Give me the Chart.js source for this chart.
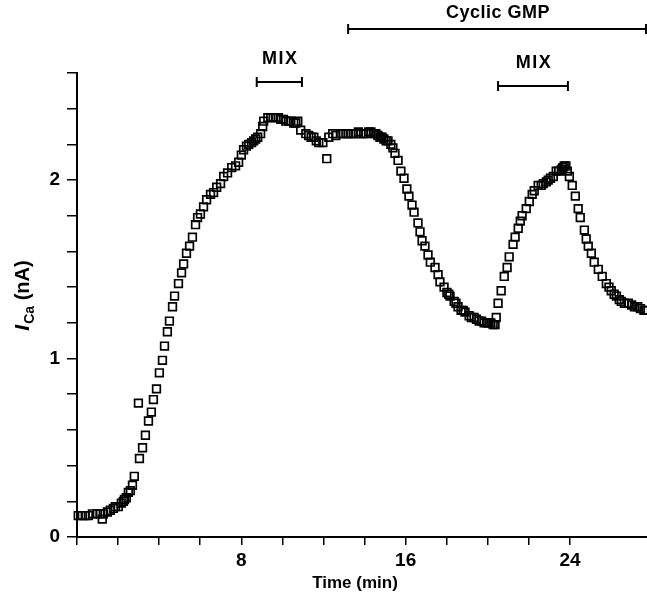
<!DOCTYPE html>
<html>
<head>
<meta charset="utf-8">
<script src="https://cdn.jsdelivr.net/npm/chart.js@4.4.1/dist/chart.umd.min.js"></script>
<style>
  html, body { margin: 0; padding: 0; background: #fff; }
  #wrap { width: 647px; height: 599px; }
</style>
</head>
<body>
<div id="wrap"><canvas id="icaChart" width="647" height="599"></canvas></div>
<script>
// Time (min) and I_Ca (nA)
const timeMin = [
  0.06, 0.26, 0.40, 0.55, 0.75, 0.99, 1.14, 1.23, 1.28, 1.48, 1.62, 1.77, 1.87, 2.01, 2.16, 2.26, 2.31, 2.40, 2.50, 2.60,
  2.70, 2.79, 2.99, 3.04, 3.19, 3.33, 3.48, 3.62, 3.72, 3.87, 4.01, 4.16, 4.26, 4.40, 4.50, 4.65, 4.75, 4.94, 5.09, 5.19,
  5.33, 5.48, 5.62, 5.77, 5.87, 6.01, 6.16, 6.31, 6.50, 6.65, 6.80, 6.99, 7.14, 7.33, 7.53, 7.72, 7.87, 8.00, 8.11, 8.25,
  8.36, 8.50, 8.60, 8.70, 8.80, 8.94, 9.04, 9.09, 9.29, 9.43, 9.55, 9.68, 9.80, 9.92, 10.05, 10.16, 10.30, 10.41, 10.55, 10.65,
  10.75, 10.89, 11.14, 11.28, 11.40, 11.53, 11.65, 11.77, 11.97, 12.16, 12.26, 12.45, 12.60, 12.84, 12.95, 13.09, 13.20, 13.33, 13.45, 13.58,
  13.70, 13.82, 13.95, 14.06, 14.20, 14.31, 14.45, 14.55, 14.65, 14.75, 14.85, 14.94, 15.05, 15.14, 15.28, 15.38, 15.48, 15.63, 15.77, 15.92,
  16.06, 16.16, 16.31, 16.41, 16.60, 16.70, 16.80, 16.94, 17.09, 17.20, 17.43, 17.58, 17.67, 17.87, 18.01, 18.10, 18.16, 18.36, 18.45, 18.55,
  18.70, 18.80, 18.89, 19.09, 19.20, 19.33, 19.45, 19.58, 19.70, 19.82, 19.95, 20.06, 20.15, 20.26, 20.35, 20.41, 20.50, 20.65, 20.80, 20.94,
  21.04, 21.23, 21.33, 21.48, 21.58, 21.67, 21.87, 22.02, 22.16, 22.26, 22.45, 22.60, 22.70, 22.85, 22.94, 23.05, 23.19, 23.33, 23.45, 23.58,
  23.65, 23.72, 23.80, 23.87, 23.97, 24.11, 24.26, 24.40, 24.50, 24.70, 24.79, 24.89, 25.04, 25.18, 25.38, 25.57, 25.77, 25.90, 26.01, 26.15,
  26.26, 26.40, 26.50, 26.65, 26.84, 27.00, 27.14, 27.30, 27.43, 27.60, 27.72
];
const icaNA = [
  0.12, 0.12, 0.12, 0.12, 0.13, 0.13, 0.13, 0.10, 0.13, 0.14, 0.15, 0.16, 0.17, 0.17, 0.19, 0.20, 0.21, 0.22, 0.25, 0.26,
  0.29, 0.34, 0.75, 0.44, 0.50, 0.57, 0.65, 0.70, 0.77, 0.83, 0.92, 0.99, 1.07, 1.15, 1.21, 1.29, 1.35, 1.42, 1.48, 1.53,
  1.59, 1.63, 1.68, 1.75, 1.79, 1.81, 1.85, 1.89, 1.92, 1.93, 1.96, 1.98, 2.02, 2.04, 2.07, 2.08, 2.10, 2.14, 2.17, 2.19,
  2.20, 2.21, 2.22, 2.23, 2.24, 2.26, 2.30, 2.33, 2.35, 2.35, 2.35, 2.35, 2.35, 2.34, 2.34, 2.33, 2.33, 2.33, 2.32, 2.32,
  2.33, 2.28, 2.26, 2.25, 2.24, 2.24, 2.22, 2.21, 2.21, 2.12, 2.24, 2.26, 2.25, 2.26, 2.26, 2.26, 2.26, 2.26, 2.26, 2.26,
  2.27, 2.26, 2.26, 2.26, 2.27, 2.27, 2.26, 2.26, 2.25, 2.24, 2.24, 2.23, 2.22, 2.22, 2.20, 2.18, 2.15, 2.11, 2.05, 2.01,
  1.95, 1.91, 1.86, 1.82, 1.76, 1.71, 1.66, 1.63, 1.58, 1.54, 1.51, 1.47, 1.43, 1.40, 1.37, 1.36, 1.35, 1.32, 1.31, 1.29,
  1.27, 1.27, 1.26, 1.24, 1.23, 1.23, 1.22, 1.21, 1.21, 1.20, 1.20, 1.20, 1.20, 1.19, 1.19, 1.23, 1.31, 1.38, 1.46, 1.51,
  1.57, 1.64, 1.68, 1.73, 1.77, 1.80, 1.84, 1.88, 1.92, 1.94, 1.97, 1.97, 1.98, 1.99, 2.00, 2.01, 2.02, 2.05, 2.05, 2.06,
  2.07, 2.08, 2.08, 2.05, 2.02, 1.97, 1.91, 1.84, 1.79, 1.72, 1.67, 1.63, 1.59, 1.54, 1.50, 1.46, 1.42, 1.40, 1.38, 1.36,
  1.35, 1.33, 1.32, 1.31, 1.31, 1.30, 1.29, 1.29, 1.28, 1.27, 1.27
];

// treatment bars above the trace (min)
const treatLabels = ["MIX", "Cyclic GMP", "MIX"];
const treatStart = [8.75, 13.2, 20.5];
const treatEnd = [10.95, 27.75, 23.9];

const xTickLabels = [8, 16, 24];
const yTickLabels = [0, 1, 2];

const FONT = "'Liberation Sans', Arial, sans-serif";

const extras = {
  id: "extras",
  afterDraw(chart) {
    const ctx = chart.ctx;
    const xs = chart.scales.x;
    const barY = [82, 29, 86];
    const textY = [59, 13, 63];
    ctx.save();
    ctx.strokeStyle = "#000";
    ctx.fillStyle = "#000";
    ctx.lineWidth = 2;
    treatLabels.forEach((lab, i) => {
      const x0 = xs.getPixelForValue(treatStart[i]);
      const x1 = Math.min(xs.getPixelForValue(treatEnd[i]), chart.width - 1);
      ctx.beginPath();
      ctx.moveTo(x0, barY[i]); ctx.lineTo(x1, barY[i]);
      ctx.moveTo(x0, barY[i] - 5); ctx.lineTo(x0, barY[i] + 5);
      ctx.moveTo(x1, barY[i] - 5); ctx.lineTo(x1, barY[i] + 5);
      ctx.stroke();
      ctx.font = "bold 18px " + FONT;
      ctx.letterSpacing = lab === "MIX" ? "1.5px" : "0.5px";
      ctx.textAlign = "center";
      ctx.textBaseline = "middle";
      ctx.fillText(lab, (x0 + x1) / 2 + 1, textY[i]);
    });
    ctx.letterSpacing = "0px";

    // x axis title
    ctx.font = "bold 17px " + FONT;
    ctx.textAlign = "center";
    ctx.textBaseline = "middle";
    ctx.fillText("Time (min)", 355, 583);

    // y axis title: I_Ca (nA)
    ctx.translate(22, 296);
    ctx.rotate(-Math.PI / 2);
    ctx.textAlign = "left";
    ctx.textBaseline = "alphabetic";
    const fI = "italic bold 21px " + FONT;
    const fSub = "bold 14px " + FONT;
    const fRest = "bold 20px " + FONT;
    ctx.font = fI; const wI = ctx.measureText("I").width;
    ctx.font = fSub; const wS = ctx.measureText("Ca").width;
    ctx.font = fRest; const wR = ctx.measureText(" (nA)").width;
    let x = -(wI + wS + wR) / 2;
    ctx.font = fI; ctx.fillText("I", x, 7); x += wI + 1;
    ctx.font = fSub; ctx.fillText("Ca", x, 12); x += wS;
    ctx.font = fRest; ctx.fillText(" (nA)", x, 7);
    ctx.restore();
  }
};

new Chart(document.getElementById("icaChart"), {
  type: "scatter",
  data: {
    datasets: [{
      data: timeMin.map((t, i) => ({ x: t, y: icaNA[i] })),
      pointStyle: "rect",
      pointRadius: 5.4,
      pointBorderWidth: 1.7,
      pointBorderColor: "#000",
      pointBackgroundColor: "rgba(255,255,255,0)",
      showLine: false
    }]
  },
  options: {
    responsive: false,
    animation: false,
    clip: false,
    layout: { autoPadding: false, padding: { top: 73, right: 0, left: 0, bottom: 0 } },
    plugins: { legend: { display: false }, tooltip: { enabled: false } },
    scales: {
      x: {
        type: "linear",
        min: 0,
        max: 27.75,
        afterFit: s => { s.height = 62; s.paddingLeft = 0; s.paddingRight = 0; },
        afterBuildTicks: s => { s.ticks = s.ticks.filter(t => Math.abs(t.value / 2 - Math.round(t.value / 2)) < 1e-6); },
        border: { display: true, color: "#000", width: 2 },
        grid: { drawOnChartArea: false, drawTicks: true, tickLength: 8, color: "#000", lineWidth: 1.5 },
        ticks: {
          stepSize: 2,
          maxRotation: 0,
          autoSkip: false,
          padding: 4,
          color: "#000",
          font: { family: FONT, size: 19, weight: "bold" },
          callback: v => xTickLabels.includes(Math.round(v)) && Math.abs(v - Math.round(v)) < 1e-6 ? String(Math.round(v)) : ""
        }
      },
      y: {
        min: 0,
        max: 2.6,
        afterFit: s => { s.width = 77; s.paddingTop = 0; s.paddingBottom = 0; },
        border: { display: true, color: "#000", width: 2 },
        grid: { drawOnChartArea: false, drawTicks: true, tickLength: 10, color: "#000", lineWidth: 1.5 },
        ticks: {
          stepSize: 0.2,
          autoSkip: false,
          padding: 7,
          color: "#000",
          font: { family: FONT, size: 19, weight: "bold" },
          callback: v => yTickLabels.includes(Math.round(v)) && Math.abs(v - Math.round(v)) < 1e-6 ? String(Math.round(v)) : ""
        }
      }
    }
  },
  plugins: [extras]
});
</script>
</body>
</html>
